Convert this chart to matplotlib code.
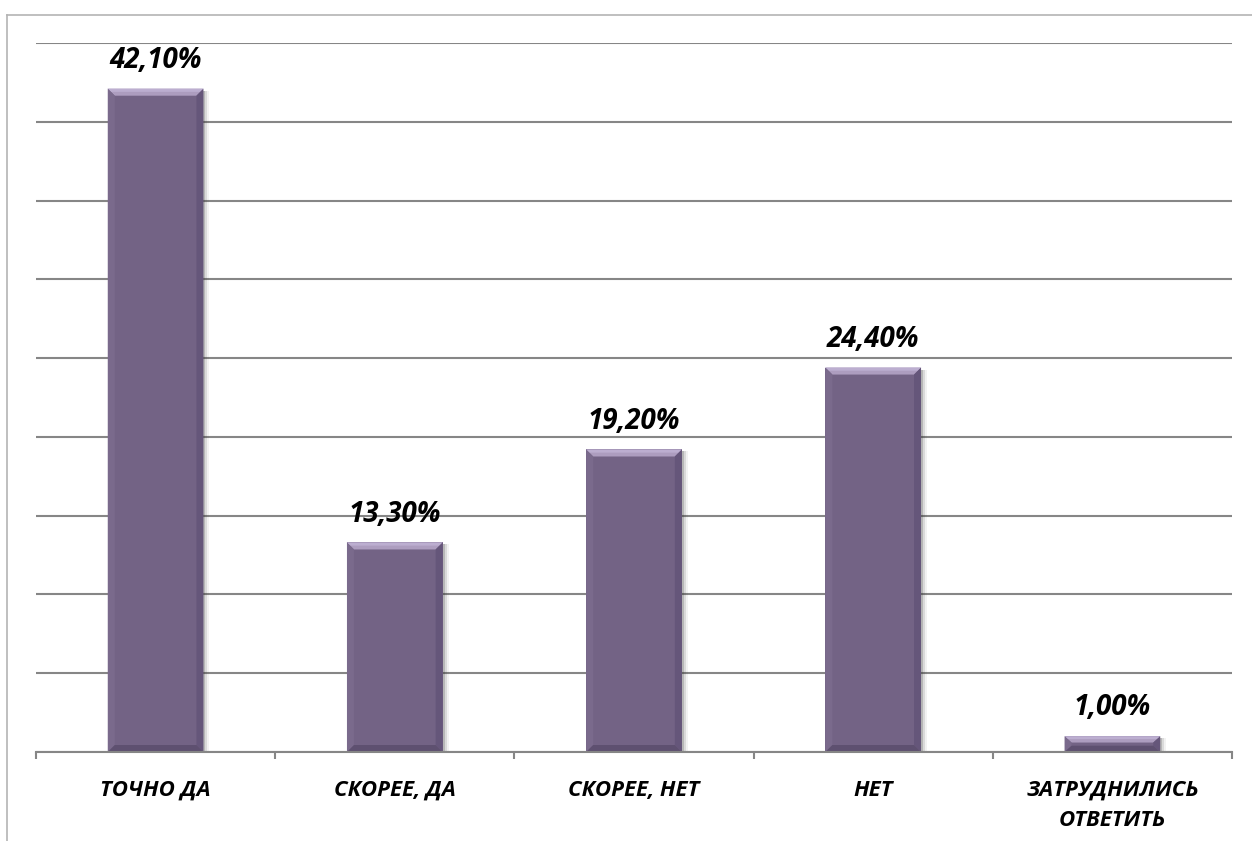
import matplotlib
matplotlib.use("Agg")
import matplotlib.pyplot as plt
from matplotlib.lines import Line2D
from matplotlib.patches import Polygon, Rectangle

categories = ["ТОЧНО ДА", "СКОРЕЕ, ДА", "СКОРЕЕ, НЕТ", "НЕТ", "ЗАТРУДНИЛИСЬ\nОТВЕТИТЬ"]
values = [42.10, 13.30, 19.20, 24.40, 1.00]
value_labels = ["42,10%", "13,30%", "19,20%", "24,40%", "1,00%"]

FONT = ["Open Sans", "DejaVu Sans"]
BAR = "#736385"

fig = plt.figure(figsize=(12.52, 8.41), dpi=100)
ax = fig.add_axes([36/1252, 1-752/841, (1232-36)/1252, (752-43)/841])

# outer chart border (partial)
fig.add_artist(Line2D([7/1252, 1.0], [1-15/841, 1-15/841], color="#b4b4b4", lw=1.2, transform=fig.transFigure))
fig.add_artist(Line2D([7/1252, 7/1252], [0, 1-15/841], color="#b4b4b4", lw=1.2, transform=fig.transFigure))

x = list(range(len(categories)))
bars = ax.bar(x, values, width=0.40, color=BAR, zorder=3, linewidth=0)

pxx = 1196/5.0   # px per x unit
pxy = 709/45.0   # px per y unit
for b in bars:
    x0 = b.get_x(); w = b.get_width(); h = b.get_height(); x1 = x0 + w
    for k, a in zip([2, 4, 6], [0.20, 0.12, 0.06]):
        ax.add_patch(Rectangle((x1, 0.0), k/pxx, h - 2/pxy, color="#303030", alpha=a, lw=0, zorder=2))
    bx = min(7, w*pxx/2)/pxx
    by = min(7, h*pxy/2.5)/pxy
    top = h
    ax.add_patch(Polygon([(x0, top), (x1, top), (x1-bx, top-by), (x0+bx, top-by)],
                         closed=True, color="#ad9dbf", lw=0, zorder=4))
    ax.add_patch(Polygon([(x0, top), (x1, top), (x1-bx*0.5, top-by*0.45), (x0+bx*0.5, top-by*0.45)],
                         closed=True, color="#bcaed0", lw=0, zorder=4))
    ax.add_patch(Polygon([(x1, top), (x1, 0), (x1-bx, by), (x1-bx, top-by)],
                         closed=True, color="#65567a", lw=0, zorder=4))
    ax.add_patch(Polygon([(x0, top), (x0, 0), (x0+bx, by), (x0+bx, top-by)],
                         closed=True, color="#7a6a8c", lw=0, zorder=4))
    ax.add_patch(Polygon([(x0, 0), (x1, 0), (x1-bx, by), (x0+bx, by)],
                         closed=True, color="#5e5070", lw=0, zorder=4))

for xi, v, lab in zip(x, values, value_labels):
    ax.annotate(lab, (xi, v), xytext=(0, 15), textcoords="offset points",
                ha="center", va="baseline", fontsize=20, fontweight="bold",
                fontstyle="italic", family=FONT, zorder=6)

ax.set_xlim(-0.5, 4.5)
ax.set_ylim(0, 45)
ax.set_yticks(range(0, 46, 5))
ax.yaxis.grid(True, color="#868686", lw=1.5, zorder=0)
ax.tick_params(axis="y", length=0, labelleft=False)
for s in ["top", "right", "left"]:
    ax.spines[s].set_visible(False)
ax.spines["bottom"].set_color("#868686")
ax.spines["bottom"].set_linewidth(1.5)
ax.spines["bottom"].set_zorder(5)

ax.set_xticks(x)
ax.set_xticklabels(categories, fontsize=16, fontweight="bold", fontstyle="italic",
                   family=FONT, linespacing=1.6)
ax.tick_params(axis="x", which="major", length=0, pad=20)
ax.set_xticks([i - 0.5 for i in range(len(categories) + 1)], minor=True)
ax.tick_params(axis="x", which="minor", length=5, width=1.5, color="#868686", direction="out")

fig.savefig("out.png", dpi=100, facecolor="white")
